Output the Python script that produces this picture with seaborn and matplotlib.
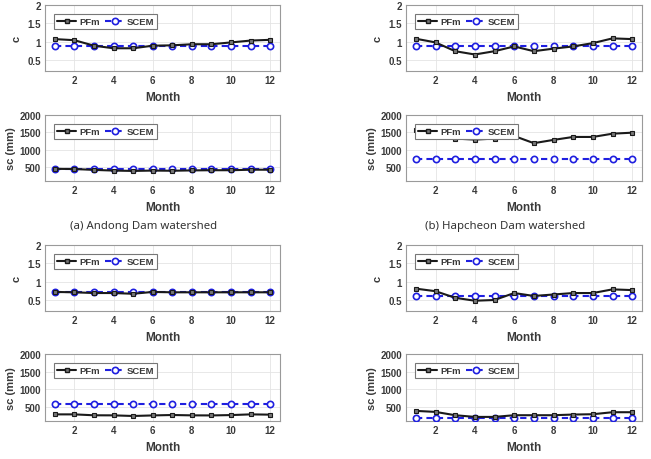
import numpy as np
import pandas as pd
import seaborn as sns
import matplotlib.pyplot as plt
from matplotlib.lines import Line2D

months = list(range(1, 13))

# (a) Andong
andong_c_pfm = [1.07, 1.04, 0.89, 0.82, 0.82, 0.89, 0.90, 0.93, 0.93, 0.98, 1.03, 1.05]
andong_c_scem = [0.87] * 12
andong_sc_pfm = [450, 445, 420, 400, 390, 400, 395, 405, 410, 410, 425, 425]
andong_sc_scem = [445] * 12

# (b) Hapcheon
hapcheon_c_pfm = [1.08, 0.98, 0.74, 0.65, 0.74, 0.87, 0.74, 0.81, 0.87, 0.96, 1.09, 1.07]
hapcheon_c_scem = [0.87] * 12
hapcheon_sc_pfm = [1560, 1434, 1321, 1292, 1321, 1396, 1189, 1283, 1368, 1368, 1462, 1491]
hapcheon_sc_scem = [742] * 12

# (c) bottom-left
c3_c_pfm = [0.72, 0.71, 0.69, 0.69, 0.67, 0.72, 0.71, 0.71, 0.71, 0.71, 0.71, 0.71]
c3_c_scem = [0.71] * 12
c3_sc_pfm = [288, 288, 262, 260, 242, 258, 270, 260, 258, 268, 288, 280]
c3_sc_scem = [588] * 12

# (d) bottom-right
d4_c_pfm = [0.81, 0.74, 0.56, 0.48, 0.50, 0.69, 0.61, 0.65, 0.69, 0.69, 0.79, 0.77]
d4_c_scem = [0.60] * 12
d4_sc_pfm = [387, 358, 264, 216, 216, 264, 264, 264, 283, 292, 349, 349]
d4_sc_scem = [197] * 12

captions = ["(a) Andong Dam watershed", "(b) Hapcheon Dam watershed"]

sns.set_style("white")
plt.rcParams['font.family'] = ['Liberation Sans', 'DejaVu Sans']

fig = plt.figure(figsize=(6.51, 4.60), dpi=100)

col_x = [45 / 651, 406 / 651]
col_w = [235 / 651, 236 / 651]
rows_px = [(6, 72), (116, 182), (246, 312), (355, 422)]

panels = [
    (0, 0, andong_c_pfm, andong_c_scem, "c"),
    (0, 1, andong_sc_pfm, andong_sc_scem, "sc"),
    (1, 0, hapcheon_c_pfm, hapcheon_c_scem, "c"),
    (1, 1, hapcheon_sc_pfm, hapcheon_sc_scem, "sc"),
    (0, 2, c3_c_pfm, c3_c_scem, "c"),
    (0, 3, c3_sc_pfm, c3_sc_scem, "sc"),
    (1, 2, d4_c_pfm, d4_c_scem, "c"),
    (1, 3, d4_sc_pfm, d4_sc_scem, "sc"),
]

blue = "#1f1fe0"
tick_col = "#3a3a3a"
dash = (3, 2)

for col, row, pfm, scem, kind in panels:
    top, bot = rows_px[row]
    ax = fig.add_axes([col_x[col], 1 - bot / 460, col_w[col], (bot - top) / 460])
    df = pd.DataFrame({"Month": months, "PFm": pfm, "SCEM": scem})
    sns.lineplot(data=df, x="Month", y="SCEM", ax=ax, color=blue, dashes=False,
                 lw=1.5, marker="o", markersize=4.5, markerfacecolor="white",
                 markeredgecolor=blue, markeredgewidth=1.2, zorder=3)
    ax.lines[-1].set_dashes(dash)
    sns.lineplot(data=df, x="Month", y="PFm", ax=ax, color="#1a1a1a", lw=1.5,
                 marker="s", markersize=3.5, markerfacecolor="#777777",
                 markeredgecolor="#1a1a1a", markeredgewidth=0.8, zorder=4)
    ax.set_xlim(0.5, 12.5)
    ax.set_xticks([2, 4, 6, 8, 10, 12])
    if kind == "c":
        ax.set_ylim(0.2, 2)
        ax.set_yticks([0.5, 1, 1.5, 2])
        ax.set_yticklabels(["0.5", "1", "1.5", "2"])
        ax.set_ylabel("c", fontsize=8, fontweight="bold", color=tick_col, labelpad=4)
    else:
        ax.set_ylim(100, 2000)
        ax.set_yticks([500, 1000, 1500, 2000])
        ax.set_ylabel("sc (mm)", fontsize=8, fontweight="bold", color=tick_col, labelpad=2)
    ax.set_xlabel("Month", fontsize=8.5, fontweight="bold", color=tick_col, labelpad=4)
    ax.grid(True, color="#e4e4e4", lw=0.6)
    ax.tick_params(labelsize=7, colors=tick_col, length=0, pad=3)
    for lab in ax.get_xticklabels() + ax.get_yticklabels():
        lab.set_fontweight("bold")
    for s in ax.spines.values():
        s.set_color("#9a9a9a")
        s.set_linewidth(0.8)
    handles = [
        Line2D([], [], color="#1a1a1a", lw=1.5, marker="s", markersize=3.5,
               markerfacecolor="#777777", markeredgecolor="#1a1a1a"),
        Line2D([], [], color=blue, lw=1.5, dashes=dash, marker="o", markersize=4.5,
               markerfacecolor="white", markeredgecolor=blue, markeredgewidth=1.2),
    ]
    leg = ax.legend(handles, ["PFm", "SCEM"], loc="upper left", ncol=2,
                    prop={"size": 6.8, "weight": "bold"}, handlelength=2.0,
                    handletextpad=0.3, columnspacing=0.6, borderpad=0.3,
                    frameon=True, fancybox=False, framealpha=1,
                    bbox_to_anchor=(0.02, 0.93))
    leg.get_frame().set_edgecolor("#777777")
    leg.get_frame().set_linewidth(0.8)
    for t in leg.get_texts():
        t.set_color(tick_col)

for i, cap in enumerate(captions):
    fig.text([144 / 651, 505 / 651][i], 1 - 227 / 460, cap, ha="center", va="center",
             fontsize=8.2, color="#333333", family=["Noto Sans", "DejaVu Sans"])

fig.savefig("out.png", dpi=100)
